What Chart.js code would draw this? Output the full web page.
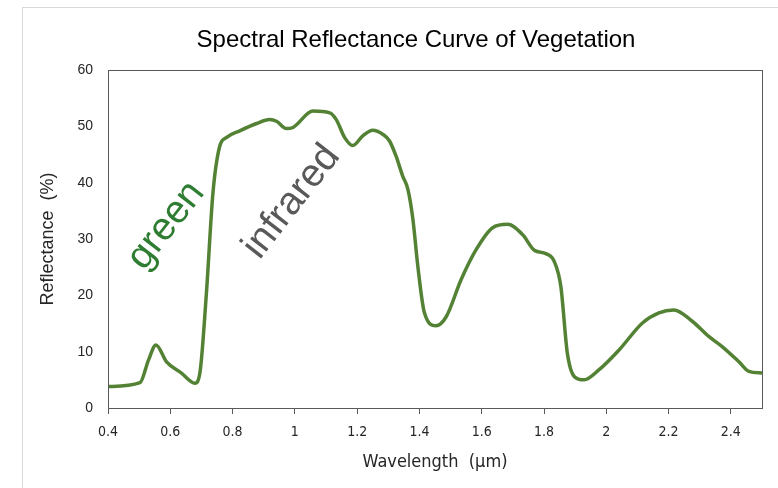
<!DOCTYPE html>
<html>
<head>
<meta charset="utf-8">
<script src="https://cdn.jsdelivr.net/npm/chart.js@4/dist/chart.umd.min.js"></script>
<style>
    body { margin: 0; background: #fff; }
    .wrap { position: relative; width: 778px; height: 488px; }
    .frame { position: absolute; left: 22px; top: 7px; right: 0; bottom: 0; border-top: 1px solid #d9d9d9; border-left: 1px solid #d9d9d9; pointer-events: none; }
</style>
</head>
<body>
<div class="wrap">
    <div class="frame"></div>
    <canvas id="chart" width="778" height="488"></canvas>
</div>
<script>
// wavelength (µm) and reflectance (%)
const wavelengthList = [0.4, 0.503, 0.53, 0.554, 0.588, 0.636, 0.679, 0.695, 0.716, 0.737, 0.759, 0.78, 0.823, 0.877, 0.919, 0.941, 0.973, 0.994, 1.058, 1.112, 1.133, 1.16, 1.186, 1.218, 1.25, 1.282, 1.304, 1.325, 1.346, 1.363, 1.379, 1.395, 1.416, 1.453, 1.486, 1.534, 1.582, 1.635, 1.683, 1.731, 1.769, 1.806, 1.833, 1.854, 1.875, 1.897, 1.929, 1.977, 2.041, 2.116, 2.169, 2.217, 2.276, 2.329, 2.372, 2.426, 2.458, 2.5];
const reflectanceList = [3.8, 4.5, 8.5, 11.2, 8.2, 6.2, 4.4, 6.2, 20.4, 38.2, 46.5, 48.0, 49.2, 50.5, 51.2, 50.9, 49.6, 49.8, 52.7, 52.4, 51.2, 48.0, 46.6, 48.3, 49.3, 48.6, 47.4, 44.7, 41.2, 38.8, 33.5, 25.1, 16.9, 14.6, 16.2, 22.8, 28.1, 32.0, 32.6, 30.8, 28.0, 27.4, 26.0, 21.6, 9.7, 5.6, 5.0, 6.8, 10.3, 15.1, 16.9, 17.4, 15.4, 12.7, 10.9, 8.2, 6.5, 6.2];
const xTickList = [0.4, 0.6, 0.8, 1, 1.2, 1.4, 1.6, 1.8, 2, 2.2, 2.4];
const yTickList = [0, 10, 20, 30, 40, 50, 60];

const titleText = 'Spectral Reflectance Curve of Vegetation';

// rotated labels inside the plot: text, wavelength, reflectance
const noteTextList = ['green', 'infrared'];
const noteXList = [0.587, 0.99];
const noteYList = [32.4, 36.6];
const noteColorList = ['#2e7d32', '#595959'];

const chartElement = document.getElementById('chart');
const arialFont = '"Liberation Sans", Arial, sans-serif';
const tahomaFont = '"DejaVu Sans Condensed", "DejaVu Sans", sans-serif';

const pointList = wavelengthList.map((x, i) => ({x: x, y: reflectanceList[i]}));

const framePlugin = {
    id: 'frame',
    afterDraw(chart) {
        const ctx = chart.ctx;
        const area = chart.chartArea;
        ctx.save();
        ctx.strokeStyle = '#595959';
        ctx.lineWidth = 1;
        ctx.strokeRect(Math.round(area.left) + 0.5, Math.round(area.top) + 0.5,
            Math.round(area.right - area.left), Math.round(area.bottom - area.top));

        // chart title, a bit left of the plot centre like the original
        ctx.fillStyle = '#000';
        ctx.font = '24px ' + arialFont;
        ctx.textAlign = 'center';
        ctx.textBaseline = 'middle';
        ctx.fillText(titleText, 416, 40);

        const xScale = chart.scales.x;
        const yScale = chart.scales.y;
        ctx.font = '39px ' + arialFont;
        noteTextList.forEach((text, i) => {
            ctx.save();
            ctx.translate(xScale.getPixelForValue(noteXList[i]), yScale.getPixelForValue(noteYList[i]));
            ctx.rotate(-52 * Math.PI / 180);
            ctx.fillStyle = noteColorList[i];
            ctx.fillText(text, 0, 0);
            ctx.restore();
        });
        ctx.restore();
    }
};

new Chart(chartElement, {
    type: 'scatter',
    data: {
        datasets: [{
            data: pointList,
            showLine: true,
            borderColor: '#548235',
            borderWidth: 3.5,
            pointRadius: 0,
            tension: 0.4,
            cubicInterpolationMode: 'monotone'
        }]
    },
    options: {
        responsive: false,
        animation: false,
        layout: { padding: { left: 0, right: 16, top: 70, bottom: 0 } },
        plugins: {
            legend: { display: false },
            tooltip: { enabled: false },
            title: { display: false }
        },
        scales: {
            x: {
                type: 'linear',
                min: 0.4,
                max: 2.5,
                afterBuildTicks: (scale) => { scale.ticks = xTickList.map(v => ({value: v})); },
                afterFit: (scale) => { scale.height = 80; },
                border: { display: true, color: '#595959' },
                grid: { display: true, drawOnChartArea: false, tickLength: 6, color: '#595959' },
                ticks: {
                    color: '#262626',
                    font: { family: tahomaFont, size: 14 },
                    padding: 10,
                    maxRotation: 0,
                    callback: (value) => String(value)
                },
                title: {
                    display: true,
                    text: 'Wavelength  (µm)',
                    color: '#262626',
                    font: { family: tahomaFont, size: 18 },
                    padding: { top: 0, bottom: 15 }
                }
            },
            y: {
                min: 0,
                max: 60,
                afterBuildTicks: (scale) => { scale.ticks = yTickList.map(v => ({value: v})); },
                afterFit: (scale) => { scale.width = 108; },
                border: { display: true, color: '#595959' },
                grid: { display: false, drawTicks: false },
                ticks: {
                    color: '#262626',
                    font: { family: arialFont, size: 14 },
                    padding: 15
                },
                title: {
                    display: true,
                    text: 'Reflectance  (%)',
                    color: '#262626',
                    font: { family: arialFont, size: 18 },
                    padding: { top: 37.5, bottom: 0 }
                }
            }
        }
    },
    plugins: [framePlugin]
});
</script>
</body>
</html>
